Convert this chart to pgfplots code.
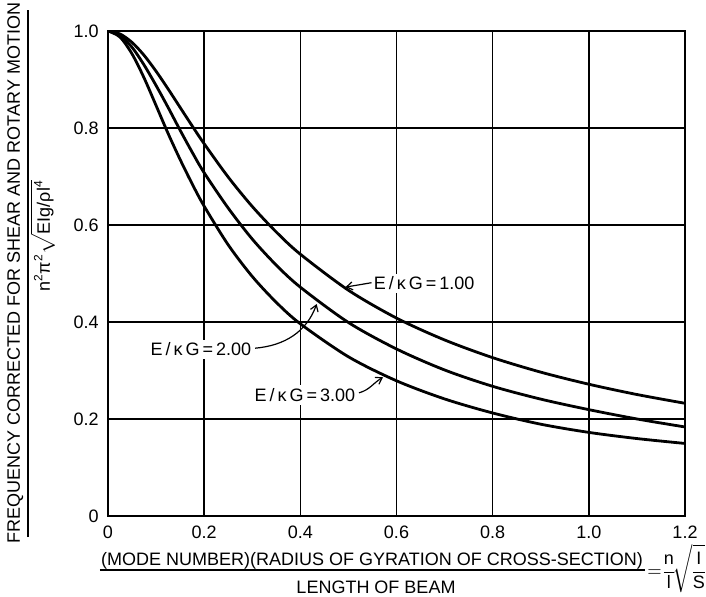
\documentclass[border=0pt]{standalone}
\usepackage{fontspec}
\setmainfont{Liberation Sans}
\usepackage{pgfplots}
\pgfplotsset{compat=1.18}
\usetikzlibrary{arrows.meta}
\newcommand\lf{\fontsize{9}{11}\selectfont}
\begin{document}
\begin{tikzpicture}
\useasboundingbox (-54pt,-40pt) rectangle (299pt,258pt);
\begin{axis}[
  scale only axis, width=288.5pt, height=242.5pt,
  at={(0,0)}, anchor=south west,
  xmin=0, xmax=1.2, ymin=0, ymax=1.0,
  xtick={0,0.2,0.4,0.6,0.8,1.0,1.2},
  xticklabels={0,0.2,0.4,0.6,0.8,1.0,1.2},
  ytick={0,0.2,0.4,0.6,0.8,1.0},
  yticklabels={0,0.2,0.4,0.6,0.8,1.0},
  grid=major,
  major grid style={black, line width=0.7pt},
  axis line style={black, line width=0.8pt},
  major tick length=0pt,
  tick label style={font=\lf, inner sep=0pt},
  xticklabel style={anchor=center, yshift=-8pt},
  yticklabel style={anchor=east, xshift=-4.5pt},
  clip mode=individual,
]
\addplot[black, line width=1.4pt, smooth] coordinates {
(0,1) (0.025,0.9939) (0.05,0.9765) (0.075,0.9499) (0.1,0.9170) (0.125,0.8805)
(0.15,0.8424) (0.175,0.8044) (0.2,0.7675) (0.25,0.6988) (0.3,0.6382) (0.35,0.5855)
(0.4,0.5398) (0.5,0.4655) (0.6,0.4081) (0.7,0.3630) (0.8,0.3265) (0.9,0.2966)
(1.0,0.2717) (1.1,0.2505) (1.2,0.2324)};
\addplot[black, line width=1.4pt, smooth] coordinates {
(0,1) (0.025,0.9911) (0.05,0.9664) (0.075,0.9300) (0.1,0.8876) (0.125,0.8424)
(0.15,0.7954) (0.175,0.7502) (0.2,0.7077) (0.25,0.6349) (0.3,0.5710) (0.35,0.5172)
(0.4,0.4718) (0.5,0.3990) (0.6,0.3444) (0.7,0.3011) (0.8,0.2674) (0.9,0.2410)
(1.0,0.2193) (1.1,0.2001) (1.2,0.1836)};
\addplot[black, line width=1.4pt, smooth] coordinates {
(0,1) (0.025,0.9875) (0.05,0.9528) (0.075,0.9034) (0.1,0.8463) (0.125,0.7887)
(0.15,0.7350) (0.175,0.6849) (0.2,0.6388) (0.25,0.5591) (0.3,0.4939) (0.35,0.4405)
(0.4,0.3963) (0.5,0.3283) (0.6,0.2788) (0.7,0.2414) (0.8,0.2124) (0.9,0.1893)
(1.0,0.1724) (1.1,0.1597) (1.2,0.1496)};
\node[anchor=west, fill=white, inner sep=1.5pt, font=\lf] at (axis cs:0.546,0.480) {E\,/\,κ\,G\,=\,1.00};
\draw[line width=0.6pt, -{Straight Barb[length=3pt,width=4pt]}] (axis cs:0.548,0.481) -- (axis cs:0.494,0.472);
\node[anchor=east, fill=white, inner sep=1.5pt, font=\lf] at (axis cs:0.305,0.344) {E\,/\,κ\,G\,=\,2.00};
\draw[line width=0.6pt, -{Straight Barb[length=3pt,width=4pt]}] (axis cs:0.306,0.346) to[out=5,in=-110] (axis cs:0.434,0.437);
\node[anchor=east, fill=white, inner sep=1.5pt, font=\lf] at (axis cs:0.521,0.2495) {E\,/\,κ\,G\,=\,3.00};
\draw[line width=0.6pt, -{Straight Barb[length=3pt,width=4pt]}] (axis cs:0.522,0.254) to[out=15,in=-150] (axis cs:0.572,0.286);
\end{axis}
% y label
\node[rotate=90, anchor=base, inner sep=0pt] at (-44pt,121.5pt) {\lf FREQUENCY CORRECTED FOR SHEAR AND ROTARY MOTION};
\draw[line width=0.6pt] (-40pt,-10.5pt) -- (-40pt,253pt);
\node[rotate=90, anchor=base, inner sep=0pt] at (-29pt,140pt) {\lf n\textsuperscript{2}π\textsuperscript{2}$\sqrt{\mbox{\lf EIg/ρl\textsuperscript{4}}}$};
% x label
\node[anchor=base, inner sep=0pt] at (132pt,-24.5pt) {\lf (MODE NUMBER)(RADIUS OF GYRATION OF CROSS-SECTION)};
\draw[line width=0.6pt] (-4pt,-27pt) -- (268.5pt,-27pt);
\node[anchor=base, inner sep=0pt] at (134pt,-38.5pt) {\lf LENGTH OF BEAM};
\node[anchor=base west, inner sep=0pt] at (269.5pt,-30.3pt) {\lf\nulldelimiterspace=0pt $\displaystyle\mathord{=}\mkern2mu\frac{\mbox{\lf n}}{\mbox{\lf l}}\mkern-1mu\sqrt{\frac{\mbox{\lf I}}{\mbox{\lf S}}}$};
\end{tikzpicture}
\end{document}
